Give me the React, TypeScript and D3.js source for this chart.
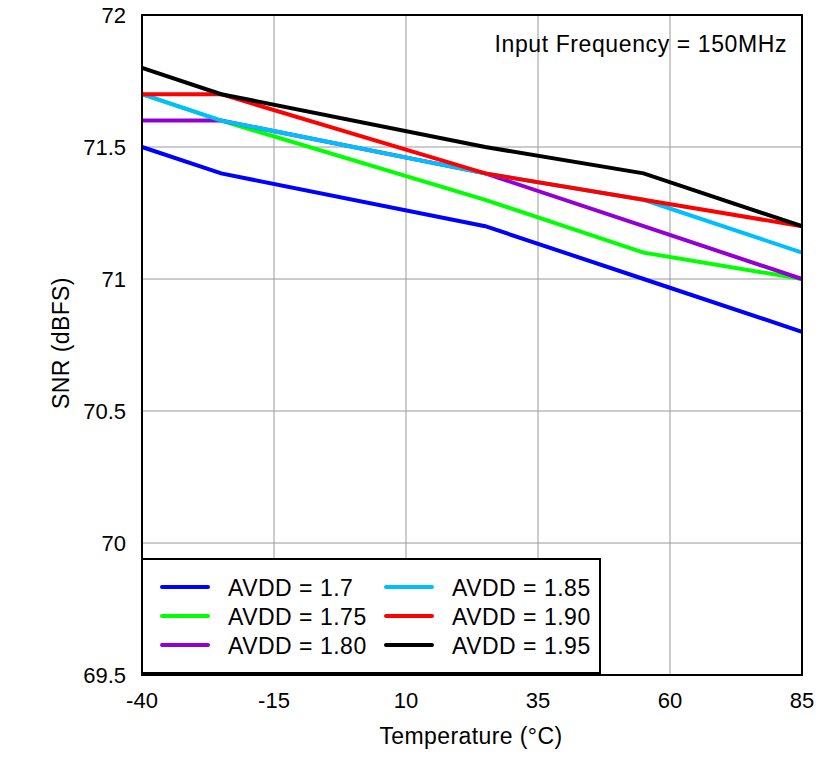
import React from "react";
import * as d3 from "d3";

const temps = [-40, -25, 25, 55, 85];
const seriesNames = ["AVDD = 1.7", "AVDD = 1.75", "AVDD = 1.80", "AVDD = 1.85", "AVDD = 1.90", "AVDD = 1.95"];
const seriesColors = ["#0000ff", "#00ff00", "#9400d3", "#00bfff", "#ff0000", "#000000"];
const avdd170 = [71.5, 71.4, 71.2, 71.0, 70.8];
const avdd175 = [71.7, 71.6, 71.3, 71.1, 71.0];
const avdd180 = [71.6, 71.6, 71.4, 71.2, 71.0];
const avdd185 = [71.7, 71.6, 71.4, 71.3, 71.1];
const avdd190 = [71.7, 71.7, 71.4, 71.3, 71.2];
const avdd195 = [71.8, 71.7, 71.5, 71.4, 71.2];
const seriesValues = [avdd170, avdd175, avdd180, avdd185, avdd190, avdd195];
const xTicks = [-40, -15, 10, 35, 60, 85];
const yTicks = [69.5, 70, 70.5, 71, 71.5, 72];
const yTickLabels = ["69.5", "70", "70.5", "71", "71.5", "72"];

export default function App() {
  const L = 142, R = 802, T = 15, B = 675;
  const x = d3.scaleLinear().domain([-40, 85]).range([L, R]);
  const y = d3.scaleLinear().domain([69.5, 72]).range([B, T]);
  const line = d3.line<number>().x((_, i) => x(temps[i])).y((d) => y(d));
  const font = "Arial, 'Liberation Sans', sans-serif";
  const legRows = [587, 616, 645];
  return (
    <svg width={839} height={764} style={{ position: "absolute", left: 0, top: 0 }} fontFamily={font}>
      <rect x={0} y={0} width={839} height={764} fill="#fff" />
      {xTicks.map((t) => (
        <line key={"gx" + t} x1={x(t)} x2={x(t)} y1={T} y2={B} stroke="#999" strokeWidth={1} />
      ))}
      {yTicks.map((t) => (
        <line key={"gy" + t} x1={L} x2={R} y1={y(t)} y2={y(t)} stroke="#999" strokeWidth={1} />
      ))}
      {seriesValues.map((vals, i) => (
        <path key={"s" + i} d={line(vals) || ""} fill="none" stroke={seriesColors[i]} strokeWidth={4} />
      ))}
      <rect x={L} y={T} width={R - L} height={B - T} fill="none" stroke="#000" strokeWidth={2} />
      {xTicks.map((t) => (
        <text key={"tx" + t} x={x(t)} y={708} fontSize={22} textAnchor="middle">{t}</text>
      ))}
      {yTicks.map((t, i) => (
        <text key={"ty" + t} x={126} y={y(t) + 8} fontSize={22} textAnchor="end">{yTickLabels[i]}</text>
      ))}
      <text x={471} y={744} fontSize={23} textAnchor="middle" letterSpacing={0.4}>Temperature (°C)</text>
      <text transform="translate(69,343) rotate(-90)" fontSize={23} textAnchor="middle" letterSpacing={0.4}>SNR (dBFS)</text>
      <text x={787} y={52} fontSize={23} textAnchor="end" letterSpacing={0.6}>Input Frequency = 150MHz</text>
      <rect x={142} y={559} width={458} height={114} fill="#fff" stroke="#000" strokeWidth={2} />
      {seriesNames.map((n, i) => {
        const col = Math.floor(i / 3);
        const row = i % 3;
        const lx = col === 0 ? 162 : 386;
        const tx = col === 0 ? 228 : 452;
        const ly = legRows[row];
        return (
          <g key={"lg" + i}>
            <line x1={lx} x2={lx + 46} y1={ly} y2={ly} stroke={seriesColors[i]} strokeWidth={4} strokeLinecap="round" />
            <text x={tx} y={ly + 9} fontSize={23} letterSpacing={0.5}>{n}</text>
          </g>
        );
      })}
    </svg>
  );
}
